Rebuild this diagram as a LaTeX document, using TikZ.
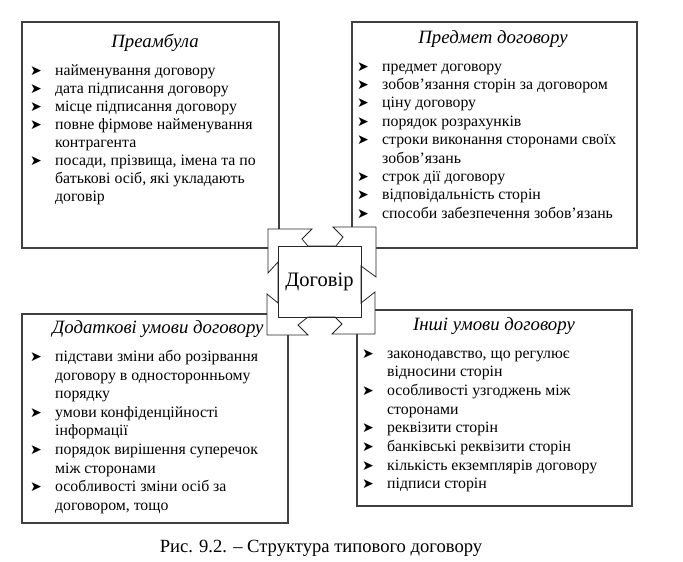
\documentclass[tikz,border=0pt]{standalone}
\usepackage{fontspec}
\setmainfont{Liberation Serif}
\newfontfamily\symfont{DejaVu Sans}
\newcommand{\itm}{\makebox[25pt][l]{\symfont\fontsize{14}{14}\selectfont ➤}}
\newcommand{\cnt}{\hspace*{25pt}}

\begin{document}
\begin{tikzpicture}[x=1pt,y=-1pt,
	box/.style={draw=black!75,line width=1.2pt,inner sep=0pt},
	ttl/.style={font=\fontsize{18.8}{22}\selectfont\itshape,inner sep=0pt},
	lst/.style={font=\fontsize{15.8}{#1}\selectfont,align=left,inner sep=0pt,anchor=north west},
	frame/.style={draw=black!85,line width=0.8pt,fill=white}]
	\useasboundingbox (0,0) rectangle (683,562);
	\node[box,minimum width=257pt,minimum height=226pt] (pream) at (150.5,135) {};
	\node[box,minimum width=285pt,minimum height=226pt] (predmet) at (494.5,135) {};
	\node[box,minimum width=266pt,minimum height=209pt] (dodat) at (155,418.5) {};
	\node[box,minimum width=275pt,minimum height=196pt] (inshi) at (494.5,408) {};
	\node[ttl] (pream-t) at (155,43) {Преамбула};
	\node[ttl] (predmet-t) at (493,39) {Предмет договору};
	\node[ttl] (dodat-t) at (158,329) {Додаткові умови договору};
	\node[ttl] (inshi-t) at (494,326) {Інші умови договору};
	\node[lst=17.95] (pream-l) at (30,64.5) {\itm найменування договору\\
		\itm дата підписання договору\\
		\itm місце підписання договору\\
		\itm повне фірмове найменування\\
		\cnt контрагента\\
		\itm посади, прізвища, імена та по\\
		\cnt батькові осіб, які укладають\\
		\cnt договір};
	\node[lst=18.4] (predmet-l) at (357,62) {\itm предмет договору\\
		\itm зобов’язання сторін за договором\\
		\itm ціну договору\\
		\itm порядок розрахунків\\
		\itm строки виконання сторонами своїх\\
		\cnt зобов’язань\\
		\itm строк дії договору\\
		\itm відповідальність сторін\\
		\itm способи забезпечення зобов’язань};
	\node[lst=18.6] (dodat-l) at (30,350) {\itm підстави зміни або розірвання\\
		\cnt договору в односторонньому\\
		\cnt порядку\\
		\itm умови конфіденційності\\
		\cnt інформації\\
		\itm порядок вирішення суперечок\\
		\cnt між сторонами\\
		\itm особливості зміни осіб за\\
		\cnt договором, тощо};
	\node[lst=18.7] (inshi-l) at (362,349) {\itm законодавство, що регулює\\
		\cnt відносини сторін\\
		\itm особливості узгоджень між\\
		\cnt сторонами\\
		\itm реквізити сторін\\
		\itm банківські реквізити сторін\\
		\itm кількість екземплярів договору\\
		\itm підписи сторін};
	\draw[frame] (268,229) -- (312,229) -- (302,239) -- (308,246) -- (336,246)
		-- (343,237) -- (333,227) -- (376,227) -- (376,277) -- (361,266)
		-- (361,303) -- (375,292) -- (375,334) -- (332,334) -- (342,324)
		-- (335,317) -- (308,317) -- (298,325) -- (308,335) -- (267,335)
		-- (267,294) -- (278,303) -- (278,262) -- (268,273) -- cycle;
	\node[draw=black!85,line width=0.8pt,minimum width=83pt,minimum height=71pt,
		font=\fontsize{20.5}{24}\selectfont] (dogovir) at (319.5,281.5) {Договір};
	\node[font=\fontsize{18.6}{22}\selectfont] (caption) at (321,548) {Рис. 9.2. – Структура типового договору};
\end{tikzpicture}
\end{document}
